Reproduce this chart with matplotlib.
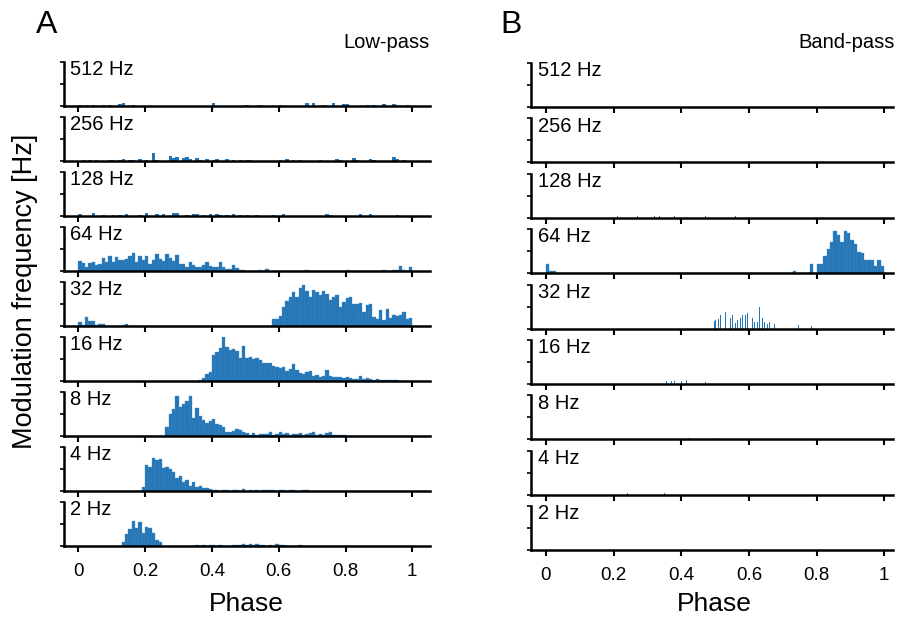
import numpy as np
import matplotlib.pyplot as plt

plt.rcParams['font.family'] = ['Liberation Sans', 'DejaVu Sans']

BLUE = '#2576b6'

freq_labels = ['512 Hz', '256 Hz', '128 Hz', '64 Hz', '32 Hz', '16 Hz', '8 Hz', '4 Hz', '2 Hz']
phase_ticks = [0, 0.2, 0.4, 0.6, 0.8, 1]
phase_tick_labels = ['0', '0.2', '0.4', '0.6', '0.8', '1']

# left edges of the 0.01-wide phase bins used by the dense histograms
bin_edges = np.arange(100) / 100

# ---- Low-pass (panel A); sparse rows as (phase, height) pairs ----
lp_512 = [(0.00, 0.03), (0.02, 0.03), (0.04, 0.02), (0.07, 0.03), (0.09, 0.03), (0.12, 0.05),
          (0.13, 0.06), (0.16, 0.03), (0.40, 0.06), (0.50, 0.02), (0.54, 0.03), (0.60, 0.02),
          (0.68, 0.06), (0.70, 0.06), (0.73, 0.03), (0.76, 0.06), (0.79, 0.04), (0.80, 0.04),
          (0.86, 0.03), (0.88, 0.03), (0.91, 0.04), (0.94, 0.04), (0.95, 0.03), (0.98, 0.02)]
lp_256 = [(0.01, 0.03), (0.03, 0.03), (0.05, 0.02), (0.09, 0.03), (0.10, 0.02), (0.12, 0.03),
          (0.13, 0.04), (0.15, 0.03), (0.16, 0.03), (0.18, 0.05), (0.20, 0.03), (0.22, 0.18),
          (0.23, 0.03), (0.27, 0.12), (0.28, 0.06), (0.29, 0.08), (0.31, 0.06), (0.32, 0.10),
          (0.33, 0.04), (0.35, 0.06), (0.36, 0.03), (0.38, 0.04), (0.40, 0.03), (0.41, 0.04),
          (0.44, 0.04), (0.46, 0.03), (0.48, 0.02), (0.50, 0.03), (0.51, 0.02), (0.60, 0.02),
          (0.62, 0.04), (0.64, 0.03), (0.66, 0.03), (0.72, 0.03), (0.77, 0.05), (0.78, 0.03),
          (0.82, 0.06), (0.83, 0.03), (0.87, 0.05), (0.88, 0.03), (0.94, 0.08), (0.95, 0.04),
          (0.97, 0.02)]
lp_128 = [(0.00, 0.04), (0.04, 0.06), (0.07, 0.03), (0.10, 0.03), (0.12, 0.03), (0.14, 0.04),
          (0.18, 0.03), (0.20, 0.06), (0.23, 0.05), (0.25, 0.04), (0.28, 0.06), (0.29, 0.06),
          (0.32, 0.03), (0.34, 0.05), (0.35, 0.05), (0.37, 0.03), (0.39, 0.04), (0.41, 0.04),
          (0.42, 0.03), (0.44, 0.03), (0.46, 0.04), (0.48, 0.03), (0.50, 0.03), (0.53, 0.03),
          (0.58, 0.03), (0.61, 0.04), (0.74, 0.04), (0.75, 0.02), (0.84, 0.04), (0.87, 0.04),
          (0.95, 0.03)]

lp_64 = [0.23, 0.18, 0.10, 0.18, 0.20, 0.14, 0.17, 0.30, 0.20, 0.33,
         0.20, 0.31, 0.25, 0.24, 0.27, 0.33, 0.42, 0.20, 0.33, 0.25,
         0.33, 0.15, 0.25, 0.38, 0.28, 0.23, 0.38, 0.30, 0.22, 0.37,
         0.15, 0.17, 0.10, 0.20, 0.14, 0.10, 0.10, 0.14, 0.20, 0.12,
         0.09, 0.08, 0.20, 0.10, 0.05, 0.05, 0.14, 0.06, 0.03, 0.02,
         0, 0, 0, 0, 0.03, 0, 0.05, 0, 0, 0,
         0, 0, 0, 0, 0, 0, 0, 0, 0.03, 0,
         0, 0, 0, 0, 0, 0, 0, 0, 0, 0,
         0.03, 0, 0, 0, 0, 0, 0, 0, 0, 0,
         0, 0.03, 0, 0, 0.03, 0.03, 0.12, 0.03, 0, 0.10]
lp_32 = [0.10, 0.03, 0.20, 0.12, 0.12, 0.03, 0.05, 0.05, 0, 0,
         0, 0, 0, 0.03, 0.04, 0, 0, 0, 0, 0,
         0, 0, 0, 0, 0, 0, 0, 0, 0, 0,
         0, 0, 0, 0, 0, 0, 0, 0, 0, 0,
         0, 0, 0, 0, 0, 0, 0, 0, 0, 0,
         0, 0, 0, 0, 0, 0, 0, 0, 0.16, 0.16,
         0.23, 0.44, 0.57, 0.65, 0.77, 0.67, 0.87, 0.94, 0.79, 0.65,
         0.82, 0.77, 0.71, 0.79, 0.73, 0.59, 0.65, 0.71, 0.44, 0.55,
         0.63, 0.66, 0.49, 0.49, 0.53, 0.31, 0.47, 0.49, 0.20, 0.16,
         0.36, 0.14, 0.38, 0.18, 0.26, 0.22, 0.24, 0.32, 0.16, 0.18]
lp_16 = [0, 0, 0, 0, 0, 0, 0, 0, 0, 0,
         0, 0, 0, 0, 0, 0, 0, 0, 0, 0,
         0, 0, 0, 0, 0, 0, 0, 0, 0, 0,
         0, 0, 0, 0, 0, 0, 0.02, 0.06, 0.16, 0.20,
         0.59, 0.66, 0.75, 1.00, 0.77, 0.70, 0.72, 0.68, 0.53, 0.80,
         0.53, 0.55, 0.50, 0.53, 0.47, 0.42, 0.40, 0.41, 0.35, 0.31,
         0.30, 0.32, 0.23, 0.27, 0.38, 0.25, 0.18, 0.16, 0.20, 0.22,
         0.12, 0.14, 0.10, 0.12, 0.24, 0.12, 0.10, 0.08, 0.09, 0.07,
         0.08, 0.06, 0.04, 0.04, 0.12, 0.04, 0.06, 0.04, 0.03, 0.04,
         0.02, 0.02, 0.03, 0.02, 0.03, 0.02, 0.01, 0, 0, 0]
lp_8 = [0, 0, 0, 0, 0, 0, 0, 0, 0, 0,
        0, 0, 0, 0, 0, 0, 0, 0, 0, 0,
        0, 0, 0, 0, 0, 0, 0.20, 0.50, 0.62, 0.92,
        0.65, 0.72, 0.80, 0.90, 0.42, 0.63, 0.45, 0.36, 0.30, 0.34,
        0.38, 0.28, 0.24, 0.20, 0.10, 0.08, 0.12, 0.16, 0.14, 0.10,
        0.06, 0.03, 0.06, 0.02, 0.04, 0.05, 0.04, 0.10, 0.03, 0.05,
        0.08, 0.04, 0.06, 0.03, 0.05, 0.04, 0.07, 0.03, 0.05, 0.07,
        0.10, 0.03, 0.05, 0.02, 0.06, 0.08, 0.02, 0.03, 0.02, 0.02,
        0.01, 0, 0, 0.01, 0.01, 0, 0, 0, 0, 0,
        0, 0, 0, 0, 0, 0, 0, 0, 0, 0]
lp_4 = [0, 0, 0, 0, 0, 0, 0, 0, 0, 0,
        0, 0, 0, 0, 0, 0, 0, 0, 0, 0.10,
        0.58, 0.55, 0.74, 0.70, 0.73, 0.52, 0.55, 0.50, 0.44, 0.30,
        0.35, 0.20, 0.25, 0.12, 0.20, 0.10, 0.12, 0.06, 0.06, 0.04,
        0.03, 0.03, 0.01, 0.02, 0.03, 0.01, 0.02, 0.03, 0.01, 0.04,
        0.01, 0.02, 0, 0.02, 0, 0.02, 0.02, 0.03, 0.02, 0.01,
        0.02, 0.02, 0.01, 0.02, 0.02, 0, 0.01, 0.02, 0.02, 0.01,
        0, 0, 0, 0, 0, 0, 0, 0, 0, 0,
        0, 0, 0, 0, 0, 0, 0, 0, 0, 0,
        0, 0, 0, 0, 0, 0, 0, 0, 0, 0]
lp_2 = [0, 0, 0, 0, 0, 0, 0, 0, 0, 0,
        0, 0, 0, 0.10, 0.27, 0.39, 0.57, 0.40, 0.55, 0.30,
        0.43, 0.42, 0.30, 0.13, 0.10, 0, 0, 0, 0, 0,
        0, 0.01, 0.01, 0, 0, 0.02, 0.01, 0.02, 0, 0.02,
        0.02, 0, 0.03, 0, 0, 0, 0.02, 0.03, 0.02, 0.04,
        0.03, 0.05, 0.03, 0.04, 0.02, 0.02, 0, 0.03, 0, 0.04,
        0.02, 0.02, 0, 0, 0, 0, 0.02, 0, 0, 0,
        0, 0, 0, 0, 0, 0, 0, 0, 0, 0,
        0, 0, 0, 0, 0, 0, 0, 0, 0, 0,
        0, 0, 0, 0, 0, 0, 0, 0, 0, 0]

# ---- Band-pass (panel B) ----
bp_512 = []
bp_256 = [(0.200, 0.04), (0.270, 0.04), (0.650, 0.04)]
bp_128 = [(0.210, 0.04), (0.270, 0.04), (0.320, 0.04), (0.335, 0.05), (0.345, 0.05),
          (0.380, 0.04), (0.410, 0.04), (0.440, 0.04), (0.470, 0.04), (0.490, 0.04),
          (0.520, 0.04), (0.560, 0.05)]
bp_64 = [0.22, 0.04, 0.04, 0, 0, 0, 0, 0, 0, 0,
         0, 0, 0, 0, 0, 0, 0, 0, 0, 0,
         0, 0, 0, 0, 0, 0, 0, 0, 0, 0,
         0, 0, 0, 0, 0, 0, 0, 0, 0, 0,
         0, 0, 0, 0, 0, 0, 0, 0, 0, 0,
         0, 0, 0, 0, 0, 0, 0, 0, 0, 0,
         0, 0, 0, 0, 0, 0, 0, 0, 0, 0,
         0, 0, 0, 0.05, 0, 0, 0, 0, 0.22, 0,
         0.22, 0.22, 0.38, 0.56, 0.71, 0.97, 0.87, 0.71, 0.97, 0.91,
         0.75, 0.66, 0.48, 0.47, 0.29, 0.29, 0.29, 0.17, 0.29, 0.17]
bp_32 = [(0.493, 0.20), (0.497, 0.18), (0.500, 0.20), (0.505, 0.15), (0.510, 0.22),
         (0.515, 0.30), (0.520, 0.20), (0.525, 0.12), (0.530, 0.38), (0.535, 0.35),
         (0.540, 0.15), (0.545, 0.25), (0.550, 0.30), (0.555, 0.15), (0.560, 0.12),
         (0.565, 0.20), (0.570, 0.28), (0.575, 0.25), (0.580, 0.30), (0.585, 0.18),
         (0.590, 0.30), (0.595, 0.35), (0.600, 0.20), (0.605, 0.30), (0.610, 0.25),
         (0.615, 0.15), (0.620, 0.20), (0.625, 0.15), (0.630, 0.50), (0.635, 0.20),
         (0.640, 0.25), (0.645, 0.15), (0.650, 0.20), (0.655, 0.10), (0.660, 0.15),
         (0.665, 0.10), (0.670, 0.20), (0.675, 0.10), (0.735, 0.20), (0.745, 0.08),
         (0.750, 0.08), (0.785, 0.05)]
bp_16 = [(0.355, 0.06), (0.370, 0.06), (0.380, 0.06), (0.400, 0.06), (0.415, 0.08),
         (0.425, 0.07), (0.440, 0.12), (0.455, 0.06), (0.470, 0.05)]
bp_8 = [(0.360, 0.04), (0.420, 0.04), (0.510, 0.04)]
bp_4 = [(0.240, 0.03), (0.245, 0.03), (0.350, 0.03)]
bp_2 = []

lowpass_rows = [lp_512, lp_256, lp_128, lp_64, lp_32, lp_16, lp_8, lp_4, lp_2]
bandpass_rows = [bp_512, bp_256, bp_128, bp_64, bp_32, bp_16, bp_8, bp_4, bp_2]

W, H = 901, 619
fig = plt.figure(figsize=(W / 100, H / 100), dpi=100)


def draw_row(ax, data, label, bottom_row, label_x, sparse_width):
    if len(data) == 100:
        ax.bar(bin_edges, data, width=0.01, align='edge', color=BLUE,
               edgecolor='#4289c2', linewidth=0.25)
    elif len(data) > 0:
        x = [p for p, _ in data]
        h = [v for _, v in data]
        ax.bar(x, h, width=sparse_width, align='edge', color=BLUE, linewidth=0)
    ax.set_ylim(0, 1)
    ax.set_yticks([0, 0.5, 1])
    ax.set_yticklabels([])
    ax.set_xticks(phase_ticks)
    if bottom_row:
        ax.set_xticklabels(phase_tick_labels, fontsize=13.5)
    else:
        ax.set_xticklabels([])
    for s in ['top', 'right']:
        ax.spines[s].set_visible(False)
    for s in ['left', 'bottom']:
        ax.spines[s].set_linewidth(1.8)
    ax.tick_params(axis='x', direction='out', length=4, width=1.5, pad=8)
    ax.tick_params(axis='y', direction='out', length=3, width=1.2)
    ax.text(label_x, 1.04, label, transform=ax.transAxes, va='top', ha='left', fontsize=14.5)


# panel A
for i, (data, lab) in enumerate(zip(lowpass_rows, freq_labels)):
    base = 106 + 55 * i
    ax = fig.add_axes([64 / W, 1 - base / H, 366 / W, 44 / H])
    ax.set_xlim(-0.043, 1.053)
    draw_row(ax, data, lab, i == 8, 0.016, 0.01)

# panel B
for i, (data, lab) in enumerate(zip(bandpass_rows, freq_labels)):
    base = 107 + 55.4 * i
    ax = fig.add_axes([531 / W, 1 - base / H, 362 / W, 44 / H])
    ax.set_xlim(-0.044, 1.026)
    draw_row(ax, data, lab, i == 8, 0.02, 0.0018)

fig.text(36 / W, 1 - 33 / H, 'A', fontsize=23, va='baseline', ha='left')
fig.text(500 / W, 1 - 33 / H, 'B', fontsize=23, va='baseline', ha='left')
fig.text(430 / W, 1 - 48 / H, 'Low-pass', fontsize=14.5, va='baseline', ha='right')
fig.text(895 / W, 1 - 48 / H, 'Band-pass', fontsize=14.5, va='baseline', ha='right')
fig.text(246 / W, 1 - 611 / H, 'Phase', fontsize=19, va='baseline', ha='center')
fig.text(714 / W, 1 - 611 / H, 'Phase', fontsize=19, va='baseline', ha='center')
fig.text(25 / W, 1 - 291 / H, 'Modulation frequency [Hz]', fontsize=19.5, rotation=90,
         va='center', ha='center')

fig.savefig('out.png', dpi=100)
plt.close(fig)
